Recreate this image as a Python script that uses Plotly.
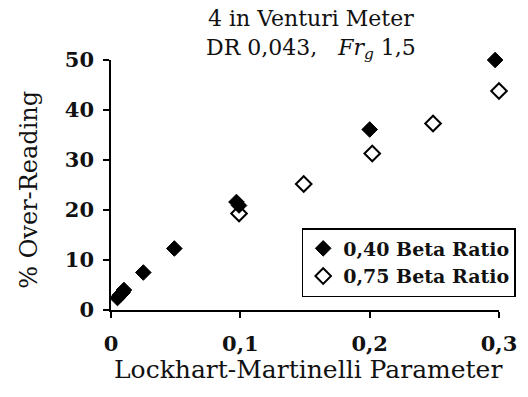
import plotly.graph_objects as go

# Data
beta040_x = [0.005, 0.007, 0.009, 0.010, 0.025, 0.049, 0.097, 0.099, 0.200, 0.297]
beta040_y = [2.4, 3.0, 3.5, 4.0, 7.5, 12.3, 21.6, 20.9, 36.1, 50.0]
beta075_x = [0.099, 0.149, 0.202, 0.249, 0.300]
beta075_y = [19.3, 25.2, 31.3, 37.3, 43.8]

series_names = ["0,40 Beta Ratio", "0,75 Beta Ratio"]
x_tickvals = [0, 0.1, 0.2, 0.3]
x_ticktext = ["0", "0,1", "0,2", "0,3"]
y_tickvals = [0, 10, 20, 30, 40, 50]

title_lines = ["4 in Venturi Meter", "DR 0,043,   <i>Fr<sub>g</sub></i> 1,5"]
x_title = "Lockhart-Martinelli Parameter"
y_title = "% Over-Reading"

FONT = "DejaVu Serif"
INK = "#111111"

fig = go.Figure()
fig.add_trace(go.Scatter(
    x=beta040_x, y=beta040_y, mode="markers", name=series_names[0],
    marker=dict(symbol="diamond", size=12, color="black",
                line=dict(width=1, color="black")),
    cliponaxis=False,
))
fig.add_trace(go.Scatter(
    x=beta075_x, y=beta075_y, mode="markers", name=series_names[1],
    marker=dict(symbol="diamond-open", size=12, color="black",
                line=dict(width=2, color="black")),
    cliponaxis=False,
))

fig.update_layout(
    width=528, height=397,
    margin=dict(l=111, r=21, t=60, b=87),
    paper_bgcolor="white", plot_bgcolor="white",
    font=dict(family=FONT, color=INK),
    separators=",.",
    showlegend=True,
    legend=dict(
        x=1.043, xanchor="right", y=0.328, yanchor="top",
        bgcolor="white", bordercolor="black", borderwidth=1.5,
        font=dict(family=FONT, size=19, color=INK, weight="bold"),
        itemwidth=30, tracegroupgap=0,
    ),
    xaxis=dict(
        range=[0, 0.3], tickvals=x_tickvals, ticktext=x_ticktext,
        showgrid=False, zeroline=False, showline=True,
        linecolor="black", linewidth=1.5,
        ticks="outside", ticklen=6, tickwidth=1.5, tickcolor="black",
        tickfont=dict(family=FONT, size=21, color=INK, weight="bold"),
        ticklabelstandoff=8,
    ),
    yaxis=dict(
        range=[0, 50], tickvals=y_tickvals,
        showgrid=False, zeroline=False, showline=True,
        linecolor="black", linewidth=1.5,
        ticks="outside", ticklen=6, tickwidth=1.5, tickcolor="black",
        tickfont=dict(family=FONT, size=21, color=INK, weight="bold"),
        ticklabelstandoff=5,
    ),
    annotations=[
        dict(text="<br>".join(title_lines), xref="paper", yref="paper",
             x=0.515, y=1.1, xanchor="center", yanchor="middle",
             showarrow=False,
             font=dict(family=FONT, size=22, color=INK)),
        dict(text=x_title, xref="paper", yref="paper", x=0.509, y=-0.236,
             xanchor="center", yanchor="middle", showarrow=False,
             font=dict(family=FONT, size=25, color=INK)),
        dict(text=y_title, xref="paper", yref="paper", x=-0.212, y=0.48,
             xanchor="center", yanchor="middle", showarrow=False, textangle=-90,
             font=dict(family=FONT, size=24, color=INK)),
    ],
)

fig.write_html("out.html")
